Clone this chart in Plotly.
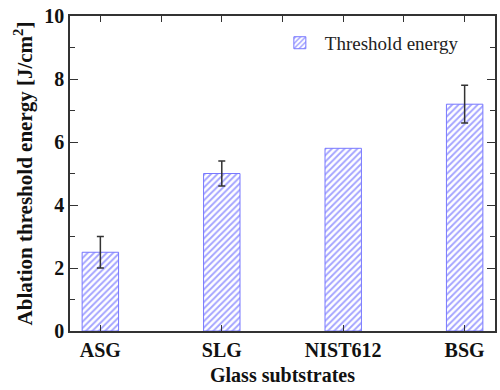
import plotly.graph_objects as go

categories = ["ASG", "SLG", "NIST612", "BSG"]
threshold_energy = [2.5, 5.0, 5.8, 7.2]
error_values = [0.5, 0.4, None, 0.6]
y_ticks = [0, 2, 4, 6, 8, 10]

FONT = "Liberation Serif"
AXC = "#333333"

bar_marker = dict(color="white",
                  line=dict(color="#7878ff", width=1),
                  pattern=dict(shape="/", fgcolor="#4848ff", bgcolor="white",
                               size=4.5, solidity=0.42))

with_err = [i for i, e in enumerate(error_values) if e is not None]
no_err = [i for i, e in enumerate(error_values) if e is None]

fig = go.Figure()
fig.add_trace(go.Bar(
    x=[categories[i] for i in with_err], y=[threshold_energy[i] for i in with_err],
    name="Threshold energy", width=0.3, marker=bar_marker,
    error_y=dict(type="data", array=[error_values[i] for i in with_err],
                 color="#333333", thickness=1.5, width=3.5),
))
fig.add_trace(go.Bar(
    x=[categories[i] for i in no_err], y=[threshold_energy[i] for i in no_err],
    name="Threshold energy", width=0.3, marker=bar_marker, showlegend=False,
))
# invisible trace to host the top tick axis
fig.add_trace(go.Scatter(x=[0, 3], y=[0, 0], xaxis="x2", mode="markers",
                         marker=dict(opacity=0), showlegend=False, hoverinfo="skip"))

fig.update_layout(
    width=500, height=390,
    margin=dict(l=70, r=3, t=16, b=59),
    paper_bgcolor="white", plot_bgcolor="white",
    font=dict(family=FONT, color="#111111"),
    barmode="overlay",
    showlegend=True,
    legend=dict(x=0.482, y=0.975, xanchor="left", yanchor="top",
                bgcolor="rgba(0,0,0,0)", font=dict(family=FONT, size=19, color="#222222"),
                itemwidth=40),
    xaxis=dict(
        type="category", categoryorder="array", categoryarray=categories, range=[-0.25, 3.25],
        showline=True, linecolor=AXC, linewidth=1.5, mirror=True,
        ticks="inside", ticklen=6, tickwidth=1.2, tickcolor=AXC,
        tickfont=dict(family=FONT, size=20, color="#111111", weight="bold"),
        title=dict(text="<b>Glass subtstrates</b>", font=dict(family=FONT, size=20, color="#111111"),
                   standoff=8),
        showgrid=False, zeroline=False,
    ),
    xaxis2=dict(
        overlaying="x", side="top", range=[-0.25, 3.25],
        tickvals=[0, 0.5, 1, 1.5, 2, 2.5, 3], showticklabels=False,
        ticks="inside", ticklen=6, tickwidth=1.2, tickcolor=AXC,
        showgrid=False, zeroline=False, showline=False,
    ),
    yaxis=dict(
        range=[0, 10], tickvals=y_ticks,
        showline=True, linecolor=AXC, linewidth=1.5, mirror="ticks",
        ticks="inside", ticklen=8, tickwidth=1.2, tickcolor=AXC,
        minor=dict(dtick=1, ticks="inside", ticklen=5, tickwidth=1.2, tickcolor=AXC, showgrid=False),
        tickfont=dict(family=FONT, size=20, color="#111111", weight="bold"),
        title=dict(text="<b>Ablation threshold energy [J/cm<sup>2</sup>]</b>",
                   font=dict(family=FONT, size=21, color="#111111"), standoff=6),
        showgrid=False, zeroline=False,
    ),
)

fig.write_html("out.html")
